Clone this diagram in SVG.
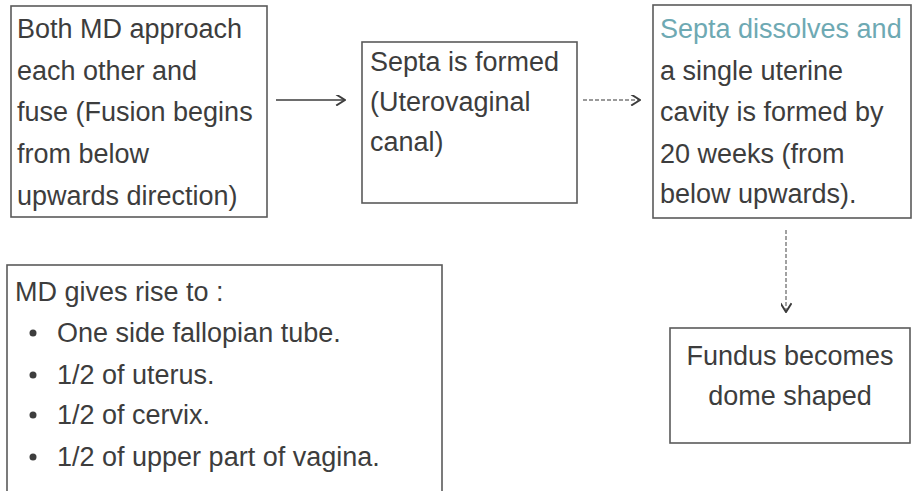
<svg xmlns="http://www.w3.org/2000/svg" width="916" height="491" viewBox="0 0 916 491">
<style>
.box{fill:#fff;stroke:#5a5a5a;stroke-width:1.6}
.t{font-family:"Liberation Sans",Arial,sans-serif;font-size:27px;fill:#3d3d3d}
.teal{fill:#6ea9b3}
.conn{stroke:#3d3d3d;stroke-width:1.6;fill:none}
.dot{stroke:#7a7a7a;stroke-width:1.4;fill:none;stroke-dasharray:4 2}
</style>
<defs>
<marker id="ah" viewBox="0 0 10 10" refX="9" refY="5" markerWidth="11" markerHeight="11" markerUnits="userSpaceOnUse" orient="auto">
<path d="M1,0 L9,5 L1,10" fill="none" stroke="#3d3d3d" stroke-width="1.8"/>
</marker>
</defs>
<rect width="916" height="491" fill="#fff"/>
<g id="connectors">
<line class="conn" x1="276" y1="100" x2="345" y2="100" marker-end="url(#ah)"/>
<line class="dot" x1="583" y1="100" x2="640" y2="100" marker-end="url(#ah)"/>
<line class="dot" x1="786" y1="230" x2="786" y2="312" marker-end="url(#ah)"/>
</g>
<g id="node1">
<rect class="box" x="11" y="6" width="256" height="211"/>
<text class="t" x="17" y="38">Both MD approach</text>
<text class="t" x="17" y="80">each other and</text>
<text class="t" x="17" y="121">fuse (Fusion begins</text>
<text class="t" x="17" y="163">from below</text>
<text class="t" x="17" y="205">upwards direction)</text>
</g>
<g id="node2">
<rect class="box" x="362" y="42" width="215" height="161"/>
<text class="t" x="370" y="71">Septa is formed</text>
<text class="t" x="370" y="111">(Uterovaginal</text>
<text class="t" x="370" y="151">canal)</text>
</g>
<g id="node3">
<rect class="box" x="653" y="5" width="258" height="213"/>
<text class="t teal" x="660" y="38">Septa dissolves and</text>
<text class="t" x="660" y="80">a single uterine</text>
<text class="t" x="660" y="121">cavity is formed by</text>
<text class="t" x="660" y="163">20 weeks (from</text>
<text class="t" x="660" y="203">below upwards).</text>
</g>
<g id="node4">
<rect class="box" x="7" y="265" width="435" height="240"/>
<text class="t" x="15" y="301">MD gives rise to :</text>
<circle cx="33" cy="333" r="3.5" fill="#3d3d3d"/>
<text class="t" x="57" y="342">One side fallopian tube.</text>
<circle cx="33" cy="375" r="3.5" fill="#3d3d3d"/>
<text class="t" x="57" y="384">1/2 of uterus.</text>
<circle cx="33" cy="415" r="3.5" fill="#3d3d3d"/>
<text class="t" x="57" y="424">1/2 of cervix.</text>
<circle cx="33" cy="457" r="3.5" fill="#3d3d3d"/>
<text class="t" x="57" y="466">1/2 of upper part of vagina.</text>
</g>
<g id="node5">
<rect class="box" x="670" y="328" width="240" height="115"/>
<text class="t" x="790" y="365" text-anchor="middle">Fundus becomes</text>
<text class="t" x="790" y="405" text-anchor="middle">dome shaped</text>
</g>
</svg>
